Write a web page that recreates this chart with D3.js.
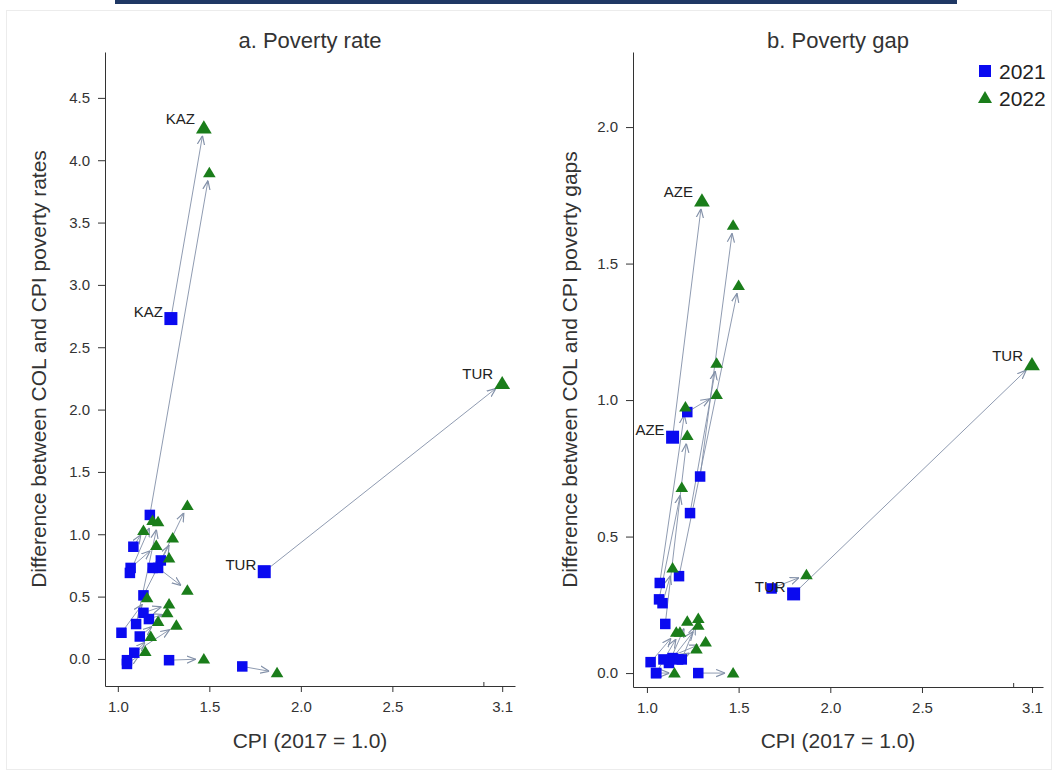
<!DOCTYPE html>
<html><head><meta charset="utf-8">
<script src="https://cdn.jsdelivr.net/npm/d3@7/dist/d3.min.js"></script>
<style>body{margin:0;background:#fff}svg{display:block}text{font-family:"Liberation Sans",Arial,sans-serif}</style>
</head><body><svg id="c" width="1058" height="774"></svg>
<script>
// Countries (only labelled ones are named in the chart)
const countries = ["TUR","C2","C3","KAZ","C5","AZE","C7","C8","C9","C10","C11","C12","C13","C14","C15","C16","C17","C18","C19","C20"];
const cpi2021 = [1.80,1.68,1.28,1.29,1.175,1.14,1.22,1.235,1.07,1.066,1.085,1.10,1.19,1.14,1.17,1.02,1.12,1.09,1.05,1.05];
const cpi2022 = [3.10,1.87,1.47,1.47,1.50,1.30,1.38,1.38,1.21,1.19,1.14,1.22,1.28,1.28,1.27,1.16,1.22,1.32,1.18,1.15];
const rate2021 = [0.70,-0.06,-0.01,2.73,1.155,0.51,0.73,0.79,0.73,0.69,0.90,0.28,0.73,0.37,0.32,0.21,0.18,0.05,-0.01,-0.04];
const rate2022 = [2.21,-0.11,0.00,4.26,3.90,0.97,0.55,1.23,0.91,1.11,1.03,1.10,0.81,0.44,0.37,0.49,0.30,0.27,0.18,0.06];
const gap2021 = [0.29,0.31,0.00,0.72,0.355,0.864,0.956,0.586,0.33,0.27,0.256,0.18,0.05,0.055,0.05,0.04,0.037,0.05,0.00,0.00];
const gap2022 = [1.13,0.36,0.00,1.64,1.42,1.73,1.02,1.135,0.975,0.68,0.385,0.87,0.20,0.175,0.088,0.15,0.19,0.114,0.15,0.00];
const labelA = ["TUR","KAZ"];
const labelB = ["TUR","AZE"];
const ticksA = [0,0.5,1,1.5,2,2.5,3,3.5,4,4.5];
const ticksB = [0,0.5,1,1.5,2];
const xTicks = [1.0,1.5,2.0,2.5,3.1];
const years = ["2021","2022"];

const BLUE="#0a0af0", GREEN="#1a7d1a", ARROW="#8290a8", INK="#333";
const svg = d3.select("#c");
svg.append("rect").attr("x",0).attr("y",0).attr("width",1058).attr("height",774).attr("fill","#fff");
svg.append("rect").attr("x",115).attr("y",0).attr("width",842).attr("height",4).attr("fill","#1f3864");
svg.append("rect").attr("x",6.5).attr("y",10.5).attr("width",1045).attr("height",759).attr("fill","none").attr("stroke","#ececec");

const defs = svg.append("defs");
defs.append("marker").attr("id","ah").attr("viewBox","0 0 10 10").attr("refX",10).attr("refY",5)
  .attr("markerWidth",9).attr("markerHeight",9).attr("markerUnits","userSpaceOnUse").attr("orient","auto")
  .append("path").attr("d","M0,1 L10,5 L0,9").attr("fill","none").attr("stroke",ARROW).attr("stroke-width",1.3);

function panel(cfg){
  const g = svg.append("g");
  const x = d3.scaleLinear().domain(cfg.xd).range(cfg.xr);
  const y = d3.scaleLinear().domain(cfg.yd).range(cfg.yr);
  // axes
  const ax = g.append("g").attr("transform",`translate(0,${cfg.yr[0]})`)
    .call(d3.axisBottom(x).tickValues(xTicks).tickFormat(d3.format(".1f")).tickSize(6).tickSizeOuter(0).tickPadding(9));
  const ay = g.append("g").attr("transform",`translate(${cfg.xr[0]},0)`)
    .call(d3.axisLeft(y).tickValues(cfg.yt).tickFormat(d3.format(".1f")).tickSize(7).tickSizeOuter(0).tickPadding(8));
  [ax,ay].forEach(a=>{a.selectAll("path,line").attr("stroke",INK);a.selectAll("text").attr("fill",INK).style("font-size","15px");});
  g.append("line").attr("x1",x(3.0)).attr("x2",x(3.0)).attr("y1",cfg.yr[0]).attr("y2",cfg.yr[0]-4).attr("stroke",INK);
  // titles
  g.append("text").attr("x",(cfg.xr[0]+cfg.xr[1])/2).attr("y",48).attr("text-anchor","middle").attr("fill",INK).style("font-size","22px").text(cfg.title);
  g.append("text").attr("x",(cfg.xr[0]+cfg.xr[1])/2).attr("y",748).attr("text-anchor","middle").attr("fill",INK).style("font-size","21px").text("CPI (2017 = 1.0)");
  g.append("text").attr("transform",`translate(${cfg.ylx},${(cfg.yr[0]+cfg.yr[1])/2}) rotate(-90)`).attr("text-anchor","middle").attr("fill",INK).style("font-size","21px").text(cfg.ylab);
  const data = countries.map((c,i)=>({c,x1:cpi2021[i],x2:cpi2022[i],y1:cfg.v1[i],y2:cfg.v2[i],lab:cfg.labels.includes(c)}));
  // arrows
  data.forEach(d=>{
    const sx=x(d.x1), sy=y(d.y1), ex=x(d.x2), ey=y(d.y2);
    const dx=ex-sx, dy=ey-sy, L=Math.hypot(dx,dy);
    const sh = L>20?8:5;
    g.append("line").attr("x1",sx).attr("y1",sy).attr("x2",ex-dx/L*sh).attr("y2",ey-dy/L*sh)
      .attr("stroke",ARROW).attr("stroke-width",0.9).attr("marker-end","url(#ah)");
  });
  // markers 2021
  data.forEach(d=>{
    const s = d.lab?13:10.5;
    g.append("rect").attr("x",x(d.x1)-s/2).attr("y",y(d.y1)-s/2).attr("width",s).attr("height",s).attr("fill",BLUE);
  });
  // markers 2022
  data.forEach(d=>{
    const s = d.lab?7.5:6;
    const cx=x(d.x2), cy=y(d.y2);
    g.append("path").attr("d",`M${cx},${cy-s} L${cx+s*1.05},${cy+s*0.75} L${cx-s*1.05},${cy+s*0.75}Z`).attr("fill",GREEN);
  });
  // labels
  data.filter(d=>d.lab).forEach(d=>{
    g.append("text").attr("x",x(d.x1)-8).attr("y",y(d.y1)-2).attr("text-anchor","end").attr("fill","#222").style("font-size","15px").text(d.c);
    g.append("text").attr("x",x(d.x2)-9).attr("y",y(d.y2)-4).attr("text-anchor","end").attr("fill","#222").style("font-size","15px").text(d.c);
  });
  return g;
}

panel({xd:[0.93,3.17],xr:[105,515],yd:[-0.217,4.868],yr:[686,52],yt:ticksA,title:"a. Poverty rate",
  ylab:"Difference between COL and CPI poverty rates",ylx:46,v1:rate2021,v2:rate2022,labels:labelA});
panel({xd:[0.924,3.16],xr:[633,1043],yd:[-0.051,2.275],yr:[687,52],yt:ticksB,title:"b. Poverty gap",
  ylab:"Difference between COL and CPI poverty gaps",ylx:577,v1:gap2021,v2:gap2022,labels:labelB});

// legend
const lg = svg.append("g");
lg.append("rect").attr("x",979).attr("y",65).attr("width",12).attr("height",12).attr("fill",BLUE);
lg.append("path").attr("d","M985,91 L992,103 L978,103Z").attr("fill",GREEN);
lg.append("text").attr("x",999).attr("y",79).attr("fill","#222").style("font-size","21px").text(years[0]);
lg.append("text").attr("x",999).attr("y",106).attr("fill","#222").style("font-size","21px").text(years[1]);
</script></body></html>
